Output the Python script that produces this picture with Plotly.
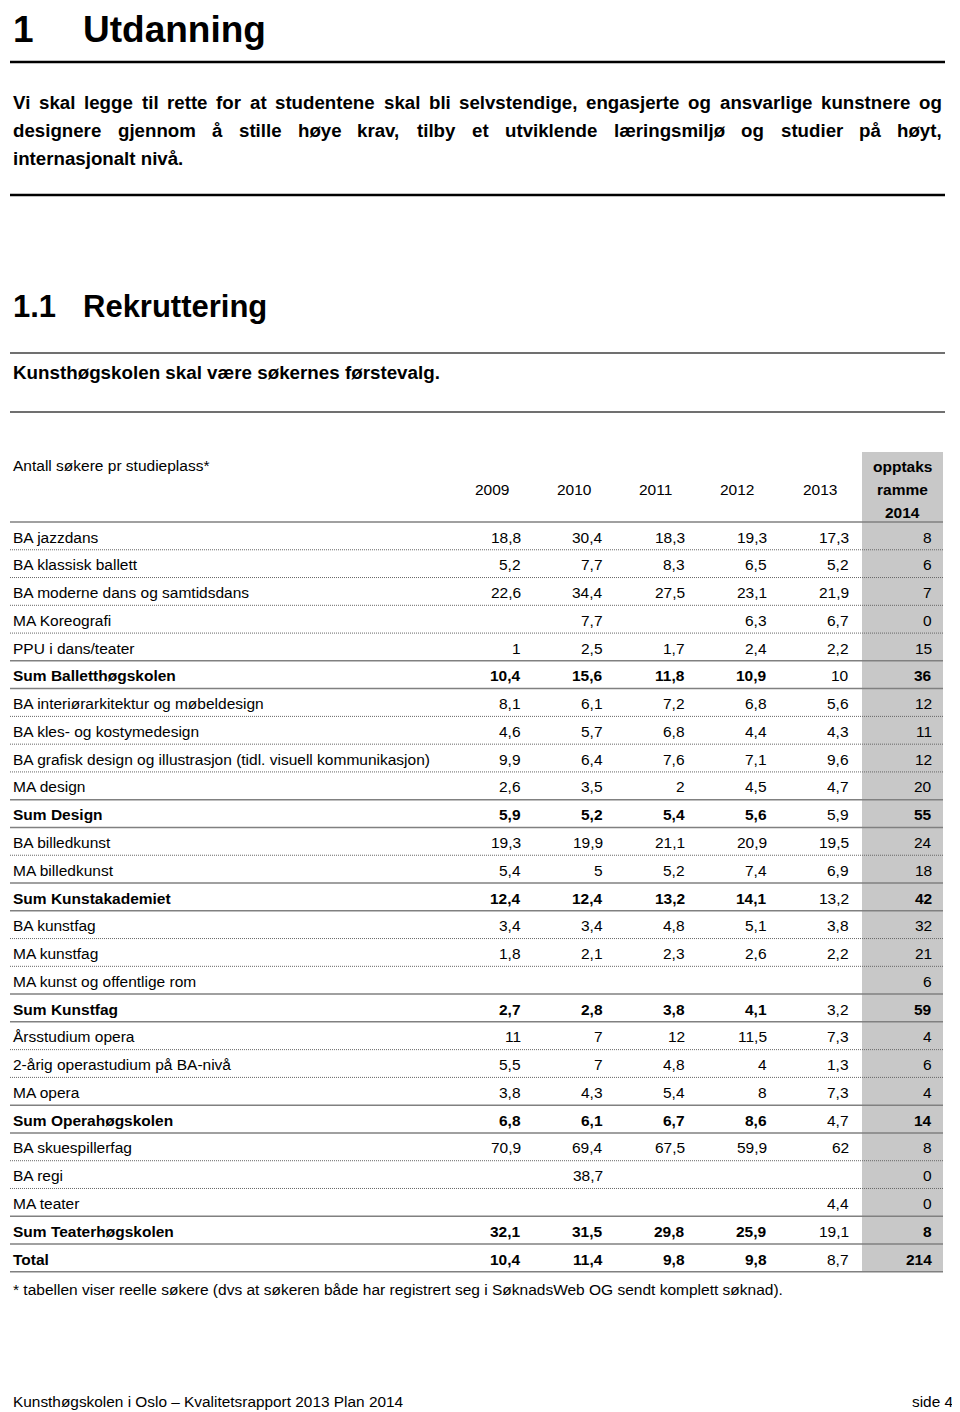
import plotly.graph_objects as go

# ---- page text ----
chapter_no = "1"
chapter = "Utdanning"
para_lines = [
    "Vi skal legge til rette for at studentene skal bli selvstendige, engasjerte og ansvarlige kunstnere og",
    "designere gjennom å stille høye krav, tilby et utviklende læringsmiljø og studier på høyt,",
    "internasjonalt nivå.",
]
section_no = "1.1"
section = "Rekruttering"
goal = "Kunsthøgskolen skal være søkernes førstevalg."
table_title = "Antall søkere pr studieplass*"
years = ["2009", "2010", "2011", "2012", "2013"]
last_head = ["opptaks", "ramme", "2014"]
footnote = "* tabellen viser reelle søkere (dvs at søkeren både har registrert seg i SøknadsWeb OG sendt komplett søknad)."
footer_left = "Kunsthøgskolen i Oslo – Kvalitetsrapport 2013 Plan 2014"
footer_right = "side 4"

# ---- table data ----
programs = [
    "BA jazzdans", "BA klassisk ballett", "BA moderne dans og samtidsdans", "MA Koreografi",
    "PPU i dans/teater", "Sum Balletthøgskolen", "BA interiørarkitektur og møbeldesign",
    "BA kles- og kostymedesign", "BA grafisk design og illustrasjon (tidl. visuell kommunikasjon)",
    "MA design", "Sum Design", "BA billedkunst", "MA billedkunst", "Sum Kunstakademiet",
    "BA kunstfag", "MA kunstfag", "MA kunst og offentlige rom", "Sum Kunstfag",
    "Årsstudium opera", "2-årig operastudium på BA-nivå", "MA opera", "Sum Operahøgskolen",
    "BA skuespillerfag", "BA regi", "MA teater", "Sum Teaterhøgskolen", "Total",
]
v2009 = [18.8, 5.2, 22.6, None, 1, 10.4, 8.1, 4.6, 9.9, 2.6, 5.9, 19.3, 5.4, 12.4,
         3.4, 1.8, None, 2.7, 11, 5.5, 3.8, 6.8, 70.9, None, None, 32.1, 10.4]
v2010 = [30.4, 7.7, 34.4, 7.7, 2.5, 15.6, 6.1, 5.7, 6.4, 3.5, 5.2, 19.9, 5, 12.4,
         3.4, 2.1, None, 2.8, 7, 7, 4.3, 6.1, 69.4, 38.7, None, 31.5, 11.4]
v2011 = [18.3, 8.3, 27.5, None, 1.7, 11.8, 7.2, 6.8, 7.6, 2, 5.4, 21.1, 5.2, 13.2,
         4.8, 2.3, None, 3.8, 12, 4.8, 5.4, 6.7, 67.5, None, None, 29.8, 9.8]
v2012 = [19.3, 6.5, 23.1, 6.3, 2.4, 10.9, 6.8, 4.4, 7.1, 4.5, 5.6, 20.9, 7.4, 14.1,
         5.1, 2.6, None, 4.1, 11.5, 4, 8, 8.6, 59.9, None, None, 25.9, 9.8]
v2013 = [17.3, 5.2, 21.9, 6.7, 2.2, 10, 5.6, 4.3, 9.6, 4.7, 5.9, 19.5, 6.9, 13.2,
         3.8, 2.2, None, 3.2, 7.3, 1.3, 7.3, 4.7, 62, None, 4.4, 19.1, 8.7]
ramme2014 = [8, 6, 7, 0, 15, 36, 12, 11, 12, 20, 55, 24, 18, 42,
             32, 21, 6, 59, 4, 6, 4, 14, 8, 0, 0, 8, 214]

ARIAL = "Liberation Sans, Arial, sans-serif"

# Helvetica/Arial bold advance widths (1/1000 em), used to justify the paragraph
BW = dict(zip("abcdefghijklmnopqrstuvwxyz",
              [556, 611, 556, 611, 556, 333, 611, 611, 278, 278, 556, 278, 889,
               611, 611, 611, 611, 389, 556, 333, 611, 556, 778, 556, 556, 500]))
BW.update({",": 278, ".": 278, " ": 278, "V": 667, "å": 556, "ø": 611, "æ": 889})


def fmt(v):
    if v is None:
        return ""
    return f"{v:g}".replace(".", ",")


fig = go.Figure()
ann = []


def txt(x, y, s, size, bold=False, anchor="left", color="#000"):
    ann.append(dict(x=x, y=y, text=f"<b>{s}</b>" if bold else s, showarrow=False,
                    xanchor=anchor, yanchor="middle", borderpad=0,
                    font=dict(family=ARIAL, size=size, color=color)))


def hline(y, x0=10, x1=945, color="#000", width=1, dash="solid"):
    fig.add_shape(type="line", x0=x0, x1=x1, y0=y, y1=y,
                  line=dict(color=color, width=width, dash=dash))


# headings (the body margin leaves no room above y=8, so the chapter title sits a bit lower)
txt(12, 29, chapter_no, 37, bold=True)
txt(82, 29, chapter, 37, bold=True)
hline(62, width=2.5)

psize = 18.7
left, right = 12, 941
para_y = [102, 130, 158]
for i, line in enumerate(para_lines):
    words = line.split(" ")
    if i == len(para_lines) - 1:
        txt(left, para_y[i], line, psize, bold=True)
        continue
    widths = [sum(BW.get(c, 556) for c in w) * psize / 1000 for w in words]
    gap = (right - left - sum(widths)) / (len(words) - 1)
    x = left
    for w, wd in zip(words, widths):
        txt(x, para_y[i], w, psize, bold=True)
        x += wd + gap
hline(195, width=2.5)

txt(12, 306, section_no, 31, bold=True)
txt(82, 306, section, 31, bold=True)
hline(353, color="#707070", width=2)
txt(12, 372, goal, 18.8, bold=True)
hline(412, color="#707070", width=2)

# table
fsize = 15.5
col_right = [522, 604, 686, 768, 850]
col_mid = [492, 574, 655, 737, 820]
last_right = 933
top = 522
pitch = 27.77
fig.add_shape(type="rect", x0=862, x1=943, y0=452, y1=top + pitch * len(programs),
              fillcolor="#c8c8c8", line=dict(width=0), layer="below")

txt(12, 465, table_title, fsize)
for yr, xm in zip(years, col_mid):
    txt(xm, 489, yr, fsize, anchor="center")
for k, h in enumerate(last_head):
    txt(902, 466 + 23 * k, h, fsize, bold=True, anchor="center")
hline(top, x1=943, color="#808080", width=1.5)

cols = [v2009, v2010, v2011, v2012, v2013]
is_sum = [p.startswith("Sum") or p == "Total" for p in programs]
for i, p in enumerate(programs):
    yc = top + pitch * i + 15
    b = is_sum[i]
    txt(12, yc, p, fsize, bold=b)
    for j, col in enumerate(cols):
        txt(col_right[j], yc, fmt(col[i]), fsize, bold=b and j < 4, anchor="right")
    txt(last_right, yc, fmt(ramme2014[i]), fsize, bold=b, anchor="right")
    yb = top + pitch * (i + 1)
    solid = b or (i + 1 < len(programs) and is_sum[i + 1])
    if solid:
        hline(yb, x1=943, color="#808080", width=1.5)
    else:
        hline(yb, x1=943, color="#666", width=1, dash="1px,1px")

txt(12, 1289, footnote, fsize)
txt(12, 1401, footer_left, 15.4)
txt(955, 1401, footer_right, 15.4, anchor="right")

# the page body has an 8px margin, so the figure is 8px smaller and its axes start at 8
fig.update_layout(
    width=952, height=1404, margin=dict(l=0, r=0, t=0, b=0),
    paper_bgcolor="white", plot_bgcolor="white", showlegend=False,
    xaxis=dict(range=[8, 960], visible=False, fixedrange=True),
    yaxis=dict(range=[1412, 8], visible=False, fixedrange=True),
    annotations=ann,
)
fig.write_html("out.html")
